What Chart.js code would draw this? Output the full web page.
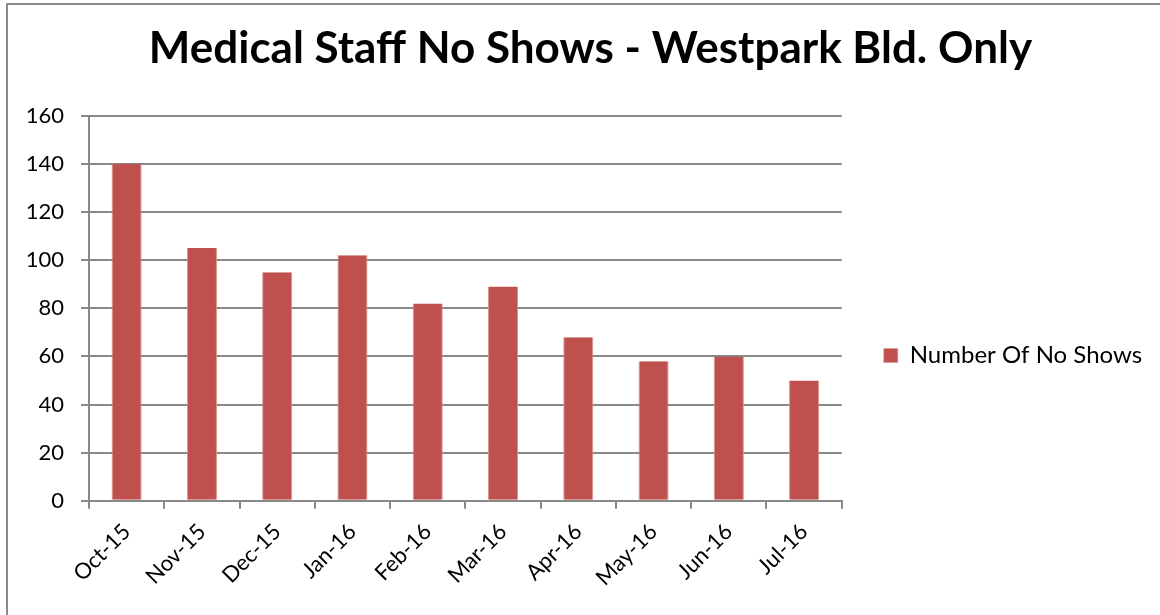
<!DOCTYPE html>
<html>
<head>
<meta charset="utf-8">
<title>Medical Staff No Shows</title>
<script src="https://cdn.jsdelivr.net/npm/chart.js@4"></script>
<style>
  body { margin: 0; background: #fff; overflow: hidden; }
  #wrap { position: relative; width: 1160px; height: 615px; }
  #frame {
    position: absolute; left: 6px; top: 3px; width: 1200px; height: 700px;
    border-top: 2px solid #8a8a8a; border-left: 2px solid #8a8a8a;
    pointer-events: none;
  }
  canvas { position: absolute; left: 0; top: 0; }
</style>
</head>
<body>
<div id="wrap">
  <canvas id="noShowChart" width="1160" height="615"></canvas>
  <div id="frame"></div>
</div>
<script>
// monthly no-shows, Westpark building
const months = ['Oct-15', 'Nov-15', 'Dec-15', 'Jan-16', 'Feb-16', 'Mar-16', 'Apr-16', 'May-16', 'Jun-16', 'Jul-16'];
const noShows = [140, 105, 95, 102, 82, 89, 68, 58, 60, 50];
const yTicks = [0, 20, 40, 60, 80, 100, 120, 140, 160];

const gridGray = '#888888';
const barRed = '#c0504d';

// legend sits lower than centre and may run to the canvas edge;
// title a little right of centre
const boxShift = {
    id: 'boxShift',
    afterLayout(chart) {
        const lg = chart.legend;
        if (lg) {
            lg.top += 44; lg.bottom += 44;
            lg.right = chart.width;
        }
        const tb = chart.titleBlock;
        if (tb) {
            tb.left += 26; tb.right += 26;
        }
    }
};

const ctx = document.getElementById('noShowChart').getContext('2d');
const chart = new Chart(ctx, {
    type: 'bar',
    data: {
        labels: months,
        datasets: [{
            label: 'Number Of No Shows',
            data: noShows,
            backgroundColor: barRed,
            borderColor: '#d79593',
            borderWidth: { left: 1, right: 1, top: 0, bottom: 0 },
            barPercentage: 0.4,
            categoryPercentage: 1.0
        }]
    },
    plugins: [boxShift],
    options: {
        responsive: false,
        animation: false,
        layout: {
            padding: { left: 10, right: 41, top: 22, bottom: 14 }
        },
        plugins: {
            title: {
                display: true,
                text: 'Medical Staff No Shows - Westpark Bld. Only',
                color: '#000',
                font: { family: 'Lato', size: 44, weight: 'bold' },
                padding: { top: 0, bottom: 41 }
            },
            legend: {
                position: 'right',
                labels: {
                    color: '#000',
                    font: { family: 'Lato', size: 24 },
                    boxWidth: 14,
                    boxHeight: 14,
                    padding: 42
                }
            },
            tooltip: { enabled: false }
        },
        scales: {
            x: {
                grid: {
                    offset: true,
                    drawOnChartArea: false,
                    drawTicks: true,
                    tickLength: 8,
                    color: gridGray,
                    lineWidth: 2
                },
                border: { color: gridGray, width: 2 },
                ticks: {
                    color: '#000',
                    font: { family: 'Lato', size: 22 },
                    maxRotation: 45,
                    minRotation: 45,
                    padding: 10
                }
            },
            y: {
                min: 0,
                max: 160,
                afterBuildTicks: (scale) => {
                    scale.ticks = yTicks.map(v => ({ value: v }));
                },
                afterFit: (scale) => {
                    scale.width = 79;
                },
                grid: {
                    color: gridGray,
                    lineWidth: 2,
                    tickLength: 8
                },
                border: { color: gridGray, width: 2 },
                ticks: {
                    color: '#000',
                    font: { family: 'Lato', size: 22 },
                    padding: 17
                }
            }
        }
    }
});
</script>
</body>
</html>
